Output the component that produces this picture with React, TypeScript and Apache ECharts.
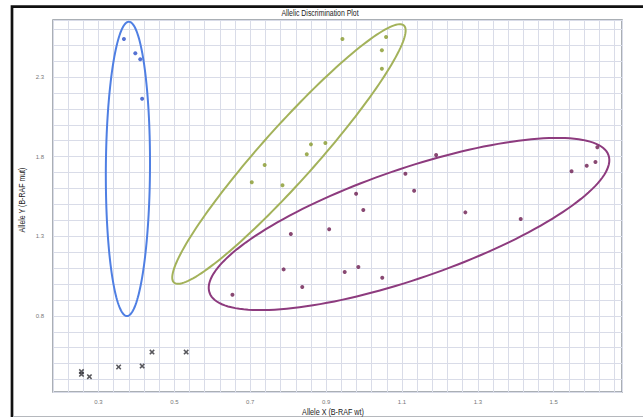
import React, { useEffect, useRef } from 'react';
import * as echarts from 'echarts';

const chartTitle = 'Allelic Discrimination Plot';
const xAxisTitle = 'Allele X (B-RAF wt)';
const yAxisTitle = 'Allele Y (B-RAF mut)';
const xTickLabels = [0.3, 0.5, 0.7, 0.9, 1.1, 1.3, 1.5];
const yTickLabels = [0.8, 1.3, 1.8, 2.3];

// Cluster: homozygous mutant (blue)
const bluePoints = [
  [0.367, 2.539],
  [0.397, 2.449],
  [0.41, 2.411],
  [0.415, 2.164],
];
// Cluster: heterozygous (green)
const greenPoints = [
  [0.943, 2.539],
  [1.058, 2.551],
  [1.047, 2.468],
  [1.047, 2.352],
  [0.86, 1.877],
  [0.898, 1.886],
  [0.849, 1.815],
  [0.738, 1.747],
  [0.704, 1.639],
  [0.785, 1.62],
];
// Cluster: wild type (purple)
const purplePoints = [
  [1.19, 1.81],
  [1.615, 1.859],
  [1.587, 1.743],
  [1.61, 1.766],
  [1.547, 1.708],
  [1.109, 1.693],
  [1.132, 1.586],
  [0.979, 1.567],
  [0.998, 1.465],
  [1.267, 1.45],
  [1.413, 1.408],
  [0.807, 1.314],
  [0.908, 1.344],
  [0.788, 1.092],
  [0.985, 1.107],
  [0.949, 1.076],
  [1.048, 1.04],
  [0.837, 0.981],
  [0.653, 0.933],
];
// No template controls (black crosses)
const ntcPoints = [
  [0.255, 0.45],
  [0.255, 0.433],
  [0.276, 0.418],
  [0.353, 0.479],
  [0.415, 0.485],
  [0.441, 0.573],
  [0.531, 0.573],
];
// Cluster outlines: [x1, y1, x2, y2] ends of the long axis, then width ratio
const blueOutline = [0.38, 2.647, 0.375, 0.799, 0.15];
const greenOutline = [0.499, 1.009, 1.105, 2.624, 0.157];
const purpleOutline = [0.5926, 0.9455, 1.6445, 1.8084, 0.26];

const FONT = "'Liberation Sans', Arial, sans-serif";

function isTick(list: number[], v: number) {
  return list.some((t) => Math.abs(t - v) < 1e-6);
}

function outlineSeries(outline: number[], color: string) {
  return {
    type: 'custom',
    z: 3,
    silent: true,
    encode: { x: [0, 2], y: [1, 3] },
    data: [outline],
    renderItem: (params: any, api: any) => {
      const p1 = api.coord([api.value(0), api.value(1)]);
      const p2 = api.coord([api.value(2), api.value(3)]);
      const ratio = api.value(4);
      const cx = (p1[0] + p2[0]) / 2;
      const cy = (p1[1] + p2[1]) / 2;
      const dx = p2[0] - p1[0];
      const dy = p2[1] - p1[1];
      const a = Math.hypot(dx, dy) / 2;
      const b = a * ratio;
      const ang = Math.atan2(dy, dx);
      const pts: number[][] = [];
      const n = 160;
      for (let i = 0; i < n; i++) {
        const t = (i / n) * Math.PI * 2;
        const ex = a * Math.cos(t);
        const ey = b * Math.sin(t);
        pts.push([
          cx + ex * Math.cos(ang) - ey * Math.sin(ang),
          cy + ex * Math.sin(ang) + ey * Math.cos(ang),
        ]);
      }
      return {
        type: 'polygon',
        shape: { points: pts },
        style: { fill: 'none', stroke: color, lineWidth: 2 },
      };
    },
  };
}

const textStyleBase = {
  fontFamily: FONT,
  fontSize: 9,
  fill: '#222',
  align: 'center',
  verticalAlign: 'middle',
};

export default function App() {
  const ref = useRef<HTMLDivElement>(null);
  useEffect(() => {
    document.body.style.margin = '0';
    const chart = echarts.init(ref.current!, null, { renderer: 'svg' });
    chart.setOption({
      animation: false,
      backgroundColor: '#ffffff',
      grid: {
        left: 53,
        top: 20,
        width: 569,
        height: 372,
        outerBoundsMode: 'none',
        containLabel: false,
        show: true,
        borderColor: '#8e959d',
        borderWidth: 1.5,
        backgroundColor: '#ffffff',
      },
      xAxis: {
        type: 'value',
        min: 0.18,
        max: 1.68,
        interval: 0.04,
        axisLine: { show: false },
        axisTick: { show: false },
        splitLine: { show: true, lineStyle: { color: '#d9dce8', width: 1 } },
        axisLabel: {
          margin: 7,
          fontFamily: FONT,
          fontSize: 6,
          color: '#777',
          formatter: (v: number) => (isTick(xTickLabels, v) ? v.toFixed(1) : ''),
        },
      },
      yAxis: {
        type: 'value',
        min: 0.322,
        max: 2.658,
        minInterval: 0.1,
        maxInterval: 0.1,
        axisLine: { show: false },
        axisTick: { show: false },
        splitLine: { show: true, lineStyle: { color: '#d9dce8', width: 1 } },
        axisLabel: {
          margin: 9,
          fontFamily: FONT,
          fontSize: 6,
          color: '#777',
          formatter: (v: number) => (isTick(yTickLabels, v) ? v.toFixed(1) : ''),
        },
      },
      graphic: [
        {
          type: 'polyline',
          shape: { points: [[12, 420], [12, 6.7], [650, 6.7]] },
          style: { stroke: '#111', lineWidth: 2.7, fill: null },
          z: 10,
        },
        {
          type: 'line',
          shape: { x1: 13, y1: 416.5, x2: 643, y2: 416.5 },
          style: { stroke: '#b5b8bd', lineWidth: 1 },
          z: 10,
        },
        {
          type: 'text',
          x: 320,
          y: 13.5,
          scaleX: 0.77,
          style: { ...textStyleBase, text: chartTitle },
          z: 10,
        },
        {
          type: 'text',
          x: 333,
          y: 412,
          scaleX: 0.8,
          style: { ...textStyleBase, text: xAxisTitle },
          z: 10,
        },
        {
          type: 'text',
          x: 22,
          y: 200,
          rotation: Math.PI / 2,
          scaleX: 0.78,
          style: { ...textStyleBase, text: yAxisTitle },
          z: 10,
        },
      ],
      series: [
        outlineSeries(blueOutline, '#4f7fe3'),
        outlineSeries(greenOutline, '#a3b25a'),
        outlineSeries(purpleOutline, '#8d3b7e'),
        {
          type: 'scatter',
          z: 5,
          data: bluePoints,
          symbol: 'circle',
          symbolSize: 4,
          itemStyle: { color: '#2b4fc8' },
        },
        {
          type: 'scatter',
          z: 5,
          data: greenPoints,
          symbol: 'circle',
          symbolSize: 4,
          itemStyle: { color: '#86982a' },
        },
        {
          type: 'scatter',
          z: 5,
          data: purplePoints,
          symbol: 'circle',
          symbolSize: 4,
          itemStyle: { color: '#6a1a4f' },
        },
        {
          type: 'scatter',
          z: 5,
          data: ntcPoints,
          symbol: 'path://M0,2L2,0L5,3L8,0L10,2L7,5L10,8L8,10L5,7L2,10L0,8L3,5Z',
          symbolSize: 5.5,
          itemStyle: { color: '#2e2e34' },
        },
      ],
    });
    return () => chart.dispose();
  }, []);
  return (
    <div
      ref={ref}
      style={{ position: 'absolute', left: 0, top: 0, width: 643, height: 417 }}
    />
  );
}
